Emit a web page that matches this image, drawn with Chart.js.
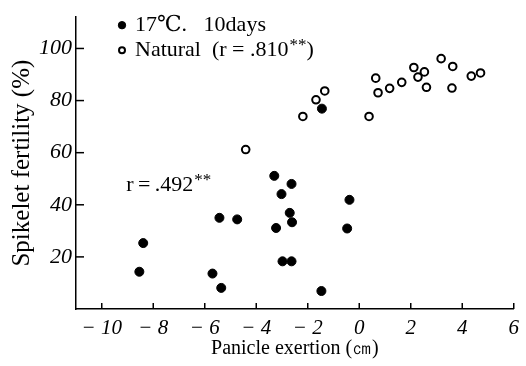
<!DOCTYPE html>
<html><head><meta charset="utf-8">
<script src="https://cdn.jsdelivr.net/npm/chart.js@4.4.1/dist/chart.umd.min.js"></script>
<style>html,body{margin:0;padding:0;background:#fff;}canvas{display:block;}</style>
</head><body>
<canvas id="c" width="526" height="366"></canvas>
<script>
// Data
const coldX = [-8.54,-8.39,-5.70,-5.43,-5.36,-4.74,-3.30,-2.63,-3.02,-2.70,-2.61,-3.23,-2.98,-2.63,-1.47,-0.38,-0.47,-1.45];
const coldY = [14.3,25.3,13.6,35.0,8.1,34.4,51.1,48.0,44.1,36.9,33.3,31.1,18.3,18.3,6.9,41.9,30.9,76.9];
const natX = [-4.41,-2.19,-1.68,-1.34,0.38,0.64,0.73,1.18,1.65,2.12,2.28,2.53,2.61,3.18,3.63,3.60,4.35,4.71];
const natY = [61.2,73.9,80.3,83.7,73.9,88.6,83.0,84.7,87.0,92.7,89.0,91.0,85.1,96.1,93.1,84.8,89.4,90.6];
const xTickValues = [-10,-8,-6,-4,-2,0,2,4,6];
const yTickValues = [20,40,60,80,100];
const seriesLabels = ['17\u2103.   10days', 'Natural  (r = .810'];
const seriesSup = ['', '**)'];
const annotText = 'r\u2009=\u2009.492';
const annotSup = '**';
const annotPos = {x: -9.05, y: 47.5};
const xTitle = 'Panicle exertion (\u339D)';
const yTitle = 'Spikelet fertility (%)';

const SERIF = '"Liberation Serif","DejaVu Serif",serif';
const toPts = (xs, ys) => xs.map((x, i) => ({x, y: ys[i]}));

const inwardTicks = {
  id: 'inwardTicks',
  afterDraw(chart) {
    const {ctx, chartArea, scales} = chart;
    ctx.save();
    ctx.strokeStyle = '#000';
    ctx.lineWidth = 1.5;
    yTickValues.forEach(v => {
      const p = scales.y.getPixelForValue(v);
      ctx.beginPath(); ctx.moveTo(chartArea.left, p); ctx.lineTo(chartArea.left + 8, p); ctx.stroke();
    });
    xTickValues.forEach(v => {
      const p = scales.x.getPixelForValue(v);
      ctx.beginPath(); ctx.moveTo(p, chartArea.bottom); ctx.lineTo(p, chartArea.bottom - 6); ctx.stroke();
    });
    ctx.restore();
  }
};

function drawSupText(ctx, x, y, main, sup, size) {
  ctx.font = size + 'px ' + SERIF;
  ctx.textBaseline = 'middle';
  ctx.textAlign = 'left';
  ctx.fillText(main, x, y);
  const w = ctx.measureText(main).width;
  if (sup) {
    const sw = sup.replace(')', '');
    ctx.font = Math.round(size * 0.75) + 'px ' + SERIF;
    ctx.fillText(sw, x + w + 1, y - size * 0.22);
    const w2 = ctx.measureText(sw).width;
    if (sup.endsWith(')')) {
      ctx.font = size + 'px ' + SERIF;
      ctx.fillText(')', x + w + w2 + 1, y);
    }
  }
}

const legendAnnot = {
  id: 'legendAnnot',
  afterDraw(chart) {
    const {ctx, chartArea, scales} = chart;
    ctx.save();
    chart.data.datasets.forEach((ds, i) => {
      const mx = chartArea.left + 46, my = chartArea.top + 8 + i * 25;
      ctx.fillStyle = ds.pointBackgroundColor; ctx.strokeStyle = '#000';
      ctx.lineWidth = ds.pointBorderWidth;
      ctx.beginPath(); ctx.arc(mx, my, ds.pointRadius - 0.8, 0, Math.PI * 2);
      ctx.fill(); ctx.stroke();
      ctx.fillStyle = '#000';
      drawSupText(ctx, mx + 13, my, seriesLabels[i], seriesSup[i], 22);
    });
    ctx.fillStyle = '#000';
    drawSupText(ctx, scales.x.getPixelForValue(annotPos.x), scales.y.getPixelForValue(annotPos.y), annotText, annotSup, 22);
    ctx.restore();
  }
};

new Chart(document.getElementById('c'), {
  type: 'scatter',
  data: {
    datasets: [
      {label: seriesLabels[0], data: toPts(coldX, coldY), pointRadius: 4.5, pointBackgroundColor: '#000', pointBorderColor: '#000', pointBorderWidth: 1},
      {label: seriesLabels[1], data: toPts(natX, natY), pointRadius: 3.8, pointBackgroundColor: '#fff', pointBorderColor: '#000', pointBorderWidth: 2}
    ]
  },
  options: {
    responsive: false, animation: false, devicePixelRatio: 1,
    layout: {padding: {top: 13, right: 11, left: 0, bottom: 0}},
    plugins: {legend: {display: false}, tooltip: {enabled: false}},
    scales: {
      x: {
        type: 'linear', min: -11, max: 6,
        afterBuildTicks: s => { s.ticks = xTickValues.map(v => ({value: v})); },
        afterFit: s => { s.height = 57; },
        grid: {display: false, drawTicks: false},
        border: {display: true, color: '#000', width: 1.5},
        ticks: {color: '#000', padding: 7, font: {family: SERIF, size: 21, style: 'italic'},
          callback: v => v < 0 ? '\u2212 ' + Math.abs(v) : String(v)},
        title: {display: true, text: xTitle, color: '#000', font: {family: SERIF, size: 20}, padding: {top: 0, bottom: 5}}
      },
      y: {
        type: 'linear', min: 0, max: 112,
        afterBuildTicks: s => { s.ticks = yTickValues.map(v => ({value: v})); },
        afterFit: s => { s.width = 76; },
        grid: {display: false, drawTicks: false},
        border: {display: true, color: '#000', width: 1.5},
        ticks: {color: '#000', padding: 4, font: {family: SERIF, size: 22, style: 'italic'}},
        title: {display: true, text: yTitle, color: '#000', font: {family: SERIF, size: 25}, padding: {top: 7, bottom: 0}}
      }
    }
  },
  plugins: [inwardTicks, legendAnnot]
});
</script>
</body></html>
